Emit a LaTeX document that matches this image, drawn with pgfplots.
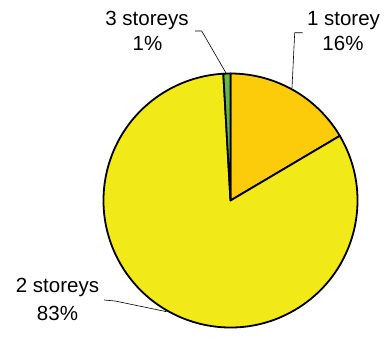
\documentclass[border=0pt]{standalone}
\usepackage{pgfplots}
\usepackage{pgfplotstable}
\pgfplotsset{compat=1.18}
\usepackage{fontspec}
\setmainfont{Liberation Sans}
\definecolor{one}{RGB}{252,204,10}
\definecolor{two}{RGB}{242,234,24}
\definecolor{three}{RGB}{100,184,70}
\pgfplotstableread{
label value
1 16.5
2 82.6
3 0.9
}\piedata
\begin{document}
\begin{tikzpicture}
\pgfplotstablegetelem{0}{value}\of\piedata \let\va\pgfplotsretval
\pgfplotstablegetelem{1}{value}\of\piedata \let\vb\pgfplotsretval
\pgfplotstablegetelem{2}{value}\of\piedata \let\vc\pgfplotsretval
\pgfmathsetmacro\aA{90}
\pgfmathsetmacro\aB{90-3.6*\va}
\pgfmathsetmacro\aC{\aB-3.6*\vb}
\pgfmathsetmacro\aD{\aC-3.6*\vc}
\begin{axis}[
  width=386pt, height=333pt, scale only axis,
  xmin=0, xmax=386, ymin=0, ymax=333, y dir=reverse,
  hide axis, clip=false,
]
\path (axis cs:0,0) rectangle (axis cs:386,333);
\filldraw[fill=one, draw=black, line width=1.8pt, line join=round]
  (axis cs:230.5,200.5) -- ++(\aA:127pt) arc[start angle=\aA, end angle=\aB, radius=127pt] -- cycle;
\filldraw[fill=two, draw=black, line width=1.8pt, line join=round]
  (axis cs:230.5,200.5) -- ++(\aB:127pt) arc[start angle=\aB, end angle=\aC, radius=127pt] -- cycle;
\filldraw[fill=three, draw=black, line width=1.8pt, line join=round]
  (axis cs:230.5,200.5) -- ++(\aC:127pt) arc[start angle=\aC, end angle=\aD, radius=127pt] -- cycle;
% leader lines
\draw[line width=0.6pt] (axis cs:195,31) -- (axis cs:201.7,31) -- (axis cs:226,73);
\draw[line width=0.6pt] (axis cs:302.7,32.7) -- (axis cs:294.7,32.7) -- (axis cs:292,88);
\draw[line width=0.6pt] (axis cs:104,300) -- (axis cs:115,301) -- (axis cs:166.7,311.7);
% labels
\begin{scope}[every node/.style={anchor=base, inner sep=0pt, font=\fontsize{20.5}{24.6}\selectfont}]
\node at (axis cs:147,25.5) {3 storeys};
\node at (axis cs:147.5,50.5) {1\%};
\node at (axis cs:343.5,25.5) {1 storey};
\node at (axis cs:343,50.5) {16\%};
\node at (axis cs:57.5,292) {2 storeys};
\node at (axis cs:57.5,320.5) {83\%};
\end{scope}
\end{axis}
\end{tikzpicture}
\end{document}
